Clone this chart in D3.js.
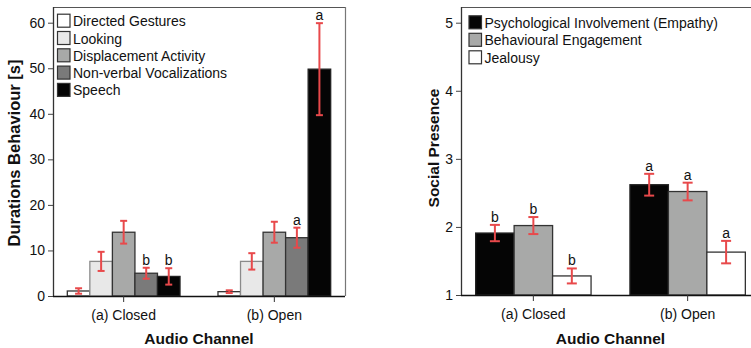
<!DOCTYPE html>
<html>
<head>
<meta charset="utf-8">
<script src="https://cdn.jsdelivr.net/npm/d3@7"></script>
<style>
  html, body { margin: 0; padding: 0; background: #fff; }
  svg { display: block; font-family: "Liberation Sans", Arial, sans-serif; }
</style>
</head>
<body>
<svg id="chart" width="751" height="348"></svg>
<script>
// Categories shared by both panels
const channels = ["(a) Closed", "(b) Open"];

// Left panel: behaviour durations in seconds (mean, standard error)
const behaviours = ["Directed Gestures", "Looking", "Displacement Activity", "Non-verbal Vocalizations", "Speech"];
const behaviourFill = ["#ffffff", "#e8e8e8", "#a8a9a8", "#7a7a7a", "#050505"];
const behaviourStroke = ["#333333", "#8a8a8a", "#333333", "#333333", "#222222"];
const closedDurations = [1.1, 7.6, 14.0, 5.0, 4.3];
const closedDurationsErr = [0.6, 2.1, 2.5, 1.2, 1.8];
const openDurations = [0.95, 7.6, 14.0, 12.8, 49.8];
const openDurationsErr = [0.3, 1.8, 2.3, 2.2, 10.1];
const closedDurationLetters = ["", "", "", "b", "b"];
const openDurationLetters = ["", "", "", "a", "a"];
const durationTicks = [0, 10, 20, 30, 40, 50, 60];

// Right panel: social presence ratings (mean, standard error)
const presenceItems = ["Psychological Involvement (Empathy)", "Behavioural Engagement", "Jealousy"];
const presenceFill = ["#050505", "#a8a9a8", "#ffffff"];
const presenceStroke = ["#222222", "#333333", "#333333"];
const closedPresence = [1.91, 2.02, 1.28];
const closedPresenceErr = [0.12, 0.125, 0.11];
const openPresence = [2.62, 2.52, 1.63];
const openPresenceErr = [0.16, 0.13, 0.165];
const closedPresenceLetters = ["b", "b", "b"];
const openPresenceLetters = ["a", "a", "a"];
const presenceTicks = [1, 2, 3, 4, 5];

const ERR_COLOR = "#e8494b";
const svg = d3.select("#chart");

function drawPanel(cfg) {
  const g = svg.append("g");
  const x0 = d3.scaleBand().domain(channels).range([cfg.left, cfg.right])
    .paddingInner(0.252).paddingOuter(0.095);
  const x1 = d3.scaleBand().domain(cfg.series).range([0, x0.bandwidth()]);
  const y = d3.scaleLinear().domain(cfg.yDomain).range([cfg.bottom, cfg.top0]);

  // rows: one entry per bar
  const rows = [];
  channels.forEach((c, ci) => {
    cfg.series.forEach((s, si) => {
      rows.push({
        channel: c, series: s, si,
        value: cfg.values[ci][si],
        err: cfg.errors[ci][si],
        letter: cfg.letters[ci][si]
      });
    });
  });

  // frame
  g.append("line").attr("x1", cfg.left).attr("x2", cfg.frameRight)
    .attr("y1", cfg.top + 0.5).attr("y2", cfg.top + 0.5)
    .attr("stroke", "#555").attr("stroke-width", 1.2);
  if (cfg.showRight) {
    g.append("line").attr("x1", cfg.right + 0.5).attr("x2", cfg.right + 0.5)
      .attr("y1", cfg.top).attr("y2", cfg.bottom)
      .attr("stroke", "#777").attr("stroke-width", 1.2);
  }

  // bars
  g.selectAll("rect.bar").data(rows).join("rect")
    .attr("class", "bar")
    .attr("x", d => x0(d.channel) + x1(d.series))
    .attr("width", x1.bandwidth())
    .attr("y", d => y(d.value))
    .attr("height", d => y(cfg.yDomain[0]) - y(d.value))
    .attr("fill", d => cfg.fill[d.si])
    .attr("stroke", d => cfg.stroke[d.si])
    .attr("stroke-width", 1.3);

  // error bars
  const eb = g.selectAll("g.err").data(rows).join("g").attr("class", "err")
    .attr("transform", d => `translate(${x0(d.channel) + x1(d.series) + x1.bandwidth() / 2},0)`);
  eb.append("line").attr("x1", 0).attr("x2", 0)
    .attr("y1", d => y(d.value + d.err)).attr("y2", d => y(d.value - d.err))
    .attr("stroke", ERR_COLOR).attr("stroke-width", 2);
  eb.append("line").attr("x1", -cfg.cap).attr("x2", cfg.cap)
    .attr("y1", d => y(d.value + d.err)).attr("y2", d => y(d.value + d.err))
    .attr("stroke", ERR_COLOR).attr("stroke-width", 2);
  eb.append("line").attr("x1", -cfg.cap).attr("x2", cfg.cap)
    .attr("y1", d => y(d.value - d.err)).attr("y2", d => y(d.value - d.err))
    .attr("stroke", ERR_COLOR).attr("stroke-width", 2);
  eb.filter(d => d.letter).append("text")
    .attr("y", d => y(d.value + d.err) - 3)
    .attr("text-anchor", "middle")
    .attr("font-size", 14).attr("fill", "#111")
    .text(d => d.letter);

  // axes
  const yAxis = g.append("g").attr("transform", `translate(${cfg.left},0)`)
    .call(d3.axisLeft(y).tickValues(cfg.ticks).tickSize(5).tickPadding(3).tickFormat(d3.format("d")));
  yAxis.select(".domain").attr("stroke", "#333").attr("stroke-width", 1.3)
    .attr("d", `M0.5,${cfg.top}V${cfg.bottom}`);
  yAxis.selectAll(".tick line").attr("stroke", "#444");
  yAxis.selectAll(".tick text").attr("font-size", 14).attr("fill", "#111")
    .attr("font-family", "Liberation Sans, Arial, sans-serif");

  const xAxis = g.append("g").attr("transform", `translate(0,${cfg.bottom})`)
    .call(d3.axisBottom(x0).tickSize(6).tickPadding(8));
  xAxis.select(".domain").attr("stroke", "#111").attr("stroke-width", 1.5)
    .attr("d", `M${cfg.left},0.5H${cfg.frameRight}`);
  xAxis.selectAll(".tick line").attr("stroke", "#333");
  xAxis.selectAll(".tick text").attr("font-size", 14).attr("fill", "#111")
    .attr("font-family", "Liberation Sans, Arial, sans-serif");

  // axis titles
  g.append("text")
    .attr("x", (cfg.left + cfg.right) / 2).attr("y", 344)
    .attr("text-anchor", "middle").attr("font-weight", "bold")
    .attr("font-size", 15.5).attr("fill", "#111")
    .text("Audio Channel");
  g.append("text")
    .attr("transform", `translate(${cfg.yTitleX},${cfg.yTitleY}) rotate(-90)`)
    .attr("text-anchor", "middle").attr("dominant-baseline", "middle")
    .attr("font-weight", "bold").attr("font-size", cfg.yTitleSize).attr("fill", "#111")
    .text(cfg.yTitle);

  // legend
  const lg = g.selectAll("g.legend").data(cfg.series).join("g").attr("class", "legend")
    .attr("transform", (d, i) => `translate(${cfg.legendX},${cfg.legendY + i * cfg.legendStep})`);
  lg.append("rect").attr("x", 0).attr("y", -6.5).attr("width", 12.5).attr("height", 13)
    .attr("fill", (d, i) => cfg.fill[i]).attr("stroke", "#333").attr("stroke-width", 1.2);
  lg.append("text").attr("x", 15.5).attr("y", 5.5)
    .attr("font-size", 14).attr("fill", "#111").text(d => d);
}

drawPanel({
  left: 53, right: 345, frameRight: 345, top: 7, top0: 22.7, bottom: 296,
  showRight: true,
  yDomain: [0, 60], ticks: durationTicks,
  series: behaviours, fill: behaviourFill, stroke: behaviourStroke,
  values: [closedDurations, openDurations],
  errors: [closedDurationsErr, openDurationsErr],
  letters: [closedDurationLetters, openDurationLetters],
  cap: 3.5,
  yTitle: "Durations Behaviour [s]", yTitleX: 16, yTitleY: 153, yTitleSize: 16.5,
  legendX: 57.5, legendY: 20.7, legendStep: 17.3
});

drawPanel({
  left: 461, right: 760, frameRight: 751, top: 7, top0: 22.7, bottom: 295,
  showRight: false,
  yDomain: [1, 5], ticks: presenceTicks,
  series: presenceItems, fill: presenceFill, stroke: presenceStroke,
  values: [closedPresence, openPresence],
  errors: [closedPresenceErr, openPresenceErr],
  letters: [closedPresenceLetters, openPresenceLetters],
  cap: 5,
  yTitle: "Social Presence", yTitleX: 435, yTitleY: 148, yTitleSize: 15.5,
  legendX: 469, legendY: 22.3, legendStep: 17.5
});
</script>
</body>
</html>
